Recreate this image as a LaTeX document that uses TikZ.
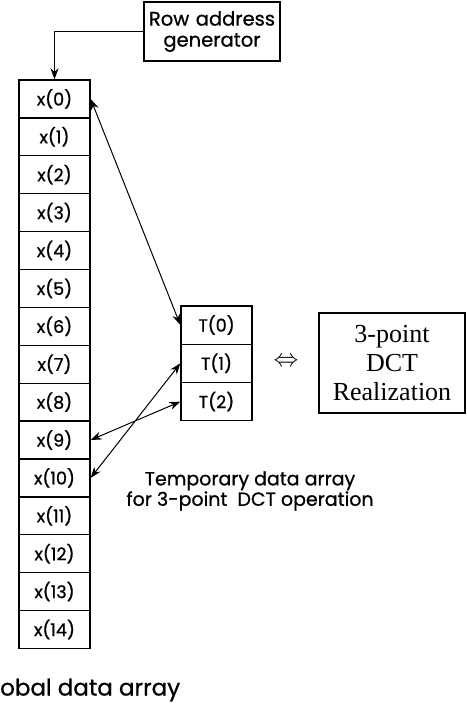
\documentclass[tikz,border=0pt]{standalone}
\usepackage{fontspec}
\setmainfont{Poppins}[FakeBold=0.8]
\newfontfamily\dctfont{Liberation Serif}
\usetikzlibrary{arrows.meta}

\tikzset{
    cell/.style={draw, line width=1.3pt, minimum width=71pt, minimum height=37.9pt,
        inner sep=0pt, font=\fontsize{17.5}{19}\selectfont},
    link/.style={line width=1pt, {Stealth[length=11pt,width=8pt]}-{Stealth[length=11pt,width=8pt]}},
}

\begin{document}
\begin{tikzpicture}[%
    x=1pt, y=-1pt,
    ]
    \useasboundingbox (0,0) rectangle (466,707);
    % global array
    \node[cell] (x0) at (54.5,98.9) {x(0)};
    \node[cell] (x1) at (54.5,136.8) {x(1)};
    \node[cell] (x2) at (54.5,174.7) {x(2)};
    \node[cell] (x3) at (54.5,212.6) {x(3)};
    \node[cell] (x4) at (54.5,250.5) {x(4)};
    \node[cell] (x5) at (54.5,288.4) {x(5)};
    \node[cell] (x6) at (54.5,326.3) {x(6)};
    \node[cell] (x7) at (54.5,364.2) {x(7)};
    \node[cell] (x8) at (54.5,402.1) {x(8)};
    \node[cell] (x9) at (54.5,440.0) {x(9)};
    \node[cell] (x10) at (54.5,477.9) {x(10)};
    \node[cell] (x11) at (54.5,515.8) {x(11)};
    \node[cell] (x12) at (54.5,553.7) {x(12)};
    \node[cell] (x13) at (54.5,591.6) {x(13)};
    \node[cell] (x14) at (54.5,629.5) {x(14)};
    % temporary array
    \node[cell, minimum height=38.3pt] (t0) at (216.5,325) {T(0)};
    \node[cell, minimum height=38.3pt] (t1) at (216.5,363.3) {T(1)};
    \node[cell, minimum height=38.3pt] (t2) at (216.5,401.6) {T(2)};
    % boxes and texts
    \node[draw, line width=1.3pt, minimum width=136pt, minimum height=59pt, text width=132pt,
        align=center, inner sep=2pt, font=\fontsize{19.5}{21}\selectfont]
        (rag) at (212,31.5) {Row address\\generator};
    \node[draw, line width=1.3pt, minimum width=146pt, minimum height=100pt, align=center,
        font=\dctfont\fontsize{26}{29}\selectfont] (dct) at (392,363) {3-point\\DCT\\Realization};
    \node[font=\fontsize{30}{30}\selectfont] (eqv) at (286,362) {$\Leftrightarrow$};
    \node[align=center, font=\fontsize{19}{18.5}\selectfont] (tmp) at (250,491)
        {Temporary data array\\for 3-point\ \ DCT operation};
    \node[anchor=west, inner sep=0pt, font=\fontsize{23}{23}\selectfont] (glb) at (0,690) {obal data array};
    % connectors
    \draw[line width=1.3pt, -{Stealth[length=11pt,width=8pt]}] (rag.west) -| (x0.north);
    \draw[link] (x0.east) -- (t0.west);
    \draw[link] (x9.east) -- (t2.west);
    \draw[link] (x10.east) -- (t1.west);
\end{tikzpicture}
\end{document}
